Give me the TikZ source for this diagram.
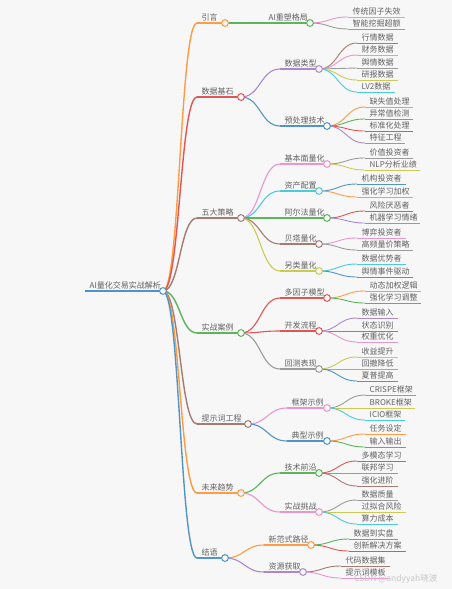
\documentclass[tikz,border=0pt]{standalone}
\usepackage{fontspec}
\newfontfamily\cjk{Noto Sans CJK SC}
\usetikzlibrary{calc}
\definecolor{bg}{HTML}{F7F7F7}
\definecolor{txtgray}{HTML}{626262}
\definecolor{mblue}{HTML}{1F77B4}
\definecolor{morange}{HTML}{FF7F0E}
\definecolor{mgreen}{HTML}{2CA02C}
\definecolor{mred}{HTML}{D62728}
\definecolor{mpurple}{HTML}{9467BD}
\definecolor{mbrown}{HTML}{8C564B}
\definecolor{mpink}{HTML}{E377C2}
\definecolor{mgray}{HTML}{7F7F7F}
\definecolor{molive}{HTML}{BCBD22}
\definecolor{mcyan}{HTML}{17BECF}
\tikzset{
  txt/.style={font=\cjk\fontsize{8}{9}\selectfont, text=txtgray, inner sep=0pt},
  wm/.style={font=\cjk\fontsize{8.5}{9}\selectfont, text=black!22, inner sep=0pt},
}
\newcommand{\mmnode}[7]{%
  \coordinate (#1-s) at (#2,#4);
  \coordinate (#1-e) at (#3,#4);
  \draw[#5!78!white, line width=#6] (#1-s) -- (#1-e);
  \node[txt, anchor=base west] (#1) at (#2+4.5,#4-2.5) {#7};
}
\newcommand{\mmlink}[4]{%
  \draw[#3!78!white, line width=#4] let \p1=(#1-e), \p2=(#2-s), \n1={0.5*(\x2-\x1)} in
    (\p1) .. controls +(\n1,0) and +(-\n1,0) .. (\p2);
}
\newcommand{\mmdot}[2]{\draw[#2!78!white, fill=bg, line width=1pt] (#1-e) circle[radius=3.4];}
\begin{document}
\begin{tikzpicture}[x=1pt,y=-1pt]
\fill[bg] (0,0) rectangle (452,589);
\useasboundingbox (0,0) rectangle (452,589);
% root
\mmnode{root}{85}{163}{291}{mblue}{1.8pt}{AI量化交易实战解析}
% level 1
\mmnode{intro}{197}{225}{23}{morange}{1.4pt}{引言}
\mmnode{data}{197}{241}{97}{mred}{1.4pt}{数据基石}
\mmnode{strat}{197}{241}{218}{mbrown}{1.4pt}{五大策略}
\mmnode{case}{197}{241}{333}{mgreen}{1.4pt}{实战案例}
\mmnode{prompt}{197}{248}{424}{mbrown}{1.4pt}{提示词工程}
\mmnode{future}{197}{241}{493}{morange}{1.4pt}{未来趋势}
\mmnode{concl}{197}{225}{558}{mblue}{1.4pt}{结语}
% level 2
\mmnode{ai}{264}{310}{23}{mgreen}{1.1pt}{AI重塑格局}
\mmnode{dtype}{280}{319}{69}{mpurple}{1.1pt}{数据类型}
\mmnode{prep}{280}{327}{126}{mblue}{1.1pt}{预处理技术}
\mmnode{fund}{280}{327}{164}{mpink}{1.1pt}{基本面量化}
\mmnode{alloc}{280}{319}{191}{mcyan}{1.1pt}{资产配置}
\mmnode{alpha}{280}{327}{218}{mgreen}{1.1pt}{阿尔法量化}
\mmnode{beta}{280}{319}{244}{mbrown}{1.1pt}{贝塔量化}
\mmnode{alt}{280}{319}{271}{molive}{1.1pt}{另类量化}
\mmnode{multi}{280}{327}{298}{mred}{1.1pt}{多因子模型}
\mmnode{dev}{280}{319}{331}{mred}{1.1pt}{开发流程}
\mmnode{back}{280}{319}{369}{mgray}{1.1pt}{回测表现}
\mmnode{frame}{287}{327}{408}{mpink}{1.1pt}{框架示例}
\mmnode{typical}{287}{327}{441}{mblue}{1.1pt}{典型示例}
\mmnode{tech}{280}{319}{473}{mgreen}{1.1pt}{技术前沿}
\mmnode{chall}{280}{319}{512}{mpink}{1.1pt}{实战挑战}
\mmnode{newp}{264}{311}{545}{morange}{1.1pt}{新范式路径}
\mmnode{res}{264}{303}{572}{mpurple}{1.1pt}{资源获取}
% level 3
\mmnode{a1}{348}{405}{17}{mpink}{0.9pt}{传统因子失效}
\mmnode{a2}{348}{405}{29}{mgray}{0.9pt}{智能挖掘超额}
\mmnode{b1}{357}{398}{43}{mbrown}{0.9pt}{行情数据}
\mmnode{b2}{357}{398}{55}{mpink}{0.9pt}{财务数据}
\mmnode{b3}{357}{398}{68}{mgray}{0.9pt}{舆情数据}
\mmnode{b4}{357}{398}{80}{molive}{0.9pt}{研报数据}
\mmnode{b5}{357}{395}{92}{mcyan}{0.9pt}{LV2数据}
\mmnode{c1}{365}{413}{107}{morange}{0.9pt}{缺失值处理}
\mmnode{c2}{365}{413}{119}{mgreen}{0.9pt}{异常值检测}
\mmnode{c3}{365}{413}{131}{mred}{0.9pt}{标准化处理}
\mmnode{c4}{365}{405}{143}{mpurple}{0.9pt}{特征工程}
\mmnode{d1}{365}{413}{158}{mgray}{0.9pt}{价值投资者}
\mmnode{d2}{365}{420}{170}{molive}{0.9pt}{NLP分析业绩}
\mmnode{e1}{357}{406}{184}{mblue}{0.9pt}{机构投资者}
\mmnode{e2}{357}{413}{197}{morange}{0.9pt}{强化学习加权}
\mmnode{f1}{365}{413}{211}{mred}{0.9pt}{风险厌恶者}
\mmnode{f2}{365}{420}{223}{mpurple}{0.9pt}{机器学习情绪}
\mmnode{g1}{357}{406}{238}{mpink}{0.9pt}{博弈投资者}
\mmnode{g2}{357}{413}{250}{mgray}{0.9pt}{高频量价策略}
\mmnode{h1}{357}{406}{264}{mcyan}{0.9pt}{数据优势者}
\mmnode{h2}{357}{413}{277}{mblue}{0.9pt}{舆情事件驱动}
\mmnode{i1}{365}{421}{291}{morange}{0.9pt}{动态加权逻辑}
\mmnode{i2}{365}{421}{303}{mgreen}{0.9pt}{强化学习调整}
\mmnode{j1}{357}{398}{318}{mpurple}{0.9pt}{数据输入}
\mmnode{j2}{357}{398}{331}{mbrown}{0.9pt}{状态识别}
\mmnode{j3}{357}{398}{342}{mpink}{0.9pt}{权重优化}
\mmnode{k1}{357}{398}{357}{molive}{0.9pt}{收益提升}
\mmnode{k2}{357}{398}{369}{mcyan}{0.9pt}{回撤降低}
\mmnode{k3}{357}{398}{381}{mblue}{0.9pt}{夏普提高}
\mmnode{l1}{365}{416}{395}{mgray}{0.9pt}{CRISPE框架}
\mmnode{l2}{365}{415}{408}{molive}{0.9pt}{BROKE框架}
\mmnode{l3}{365}{405}{420}{mcyan}{0.9pt}{ICIO框架}
\mmnode{m1}{365}{406}{434}{morange}{0.9pt}{任务设定}
\mmnode{m2}{365}{406}{447}{mgreen}{0.9pt}{输入输出}
\mmnode{n1}{357}{406}{461}{mred}{0.9pt}{多模态学习}
\mmnode{n2}{357}{398}{473}{mpurple}{0.9pt}{联邦学习}
\mmnode{n3}{357}{398}{486}{mbrown}{0.9pt}{强化进阶}
\mmnode{o1}{357}{398}{500}{mgray}{0.9pt}{数据质量}
\mmnode{o2}{357}{406}{512}{molive}{0.9pt}{过拟合风险}
\mmnode{o3}{357}{398}{524}{mcyan}{0.9pt}{算力成本}
\mmnode{p1}{349}{398}{539}{mgreen}{0.9pt}{数据到实盘}
\mmnode{p2}{349}{406}{551}{mred}{0.9pt}{创新解决方案}
\mmnode{q1}{341}{390}{566}{mbrown}{0.9pt}{代码数据集}
\mmnode{q2}{341}{390}{578}{mpink}{0.9pt}{提示词模板}
% links
\mmlink{root}{intro}{morange}{1.4pt}
\mmlink{root}{data}{mred}{1.4pt}
\mmlink{root}{strat}{mbrown}{1.4pt}
\mmlink{root}{case}{mgreen}{1.4pt}
\mmlink{root}{prompt}{mbrown}{1.4pt}
\mmlink{root}{future}{morange}{1.4pt}
\mmlink{root}{concl}{mblue}{1.4pt}
\mmlink{intro}{ai}{mgreen}{1.1pt}
\mmlink{data}{dtype}{mpurple}{1.1pt}
\mmlink{data}{prep}{mblue}{1.1pt}
\mmlink{strat}{fund}{mpink}{1.1pt}
\mmlink{strat}{alloc}{mcyan}{1.1pt}
\mmlink{strat}{alpha}{mgreen}{1.1pt}
\mmlink{strat}{beta}{mbrown}{1.1pt}
\mmlink{strat}{alt}{molive}{1.1pt}
\mmlink{case}{multi}{mred}{1.1pt}
\mmlink{case}{dev}{mred}{1.1pt}
\mmlink{case}{back}{mgray}{1.1pt}
\mmlink{prompt}{frame}{mpink}{1.1pt}
\mmlink{prompt}{typical}{mblue}{1.1pt}
\mmlink{future}{tech}{mgreen}{1.1pt}
\mmlink{future}{chall}{mpink}{1.1pt}
\mmlink{concl}{newp}{morange}{1.1pt}
\mmlink{concl}{res}{mpurple}{1.1pt}
\mmlink{ai}{a1}{mpink}{0.9pt}
\mmlink{ai}{a2}{mgray}{0.9pt}
\mmlink{dtype}{b1}{mbrown}{0.9pt}
\mmlink{dtype}{b2}{mpink}{0.9pt}
\mmlink{dtype}{b3}{mgray}{0.9pt}
\mmlink{dtype}{b4}{molive}{0.9pt}
\mmlink{dtype}{b5}{mcyan}{0.9pt}
\mmlink{prep}{c1}{morange}{0.9pt}
\mmlink{prep}{c2}{mgreen}{0.9pt}
\mmlink{prep}{c3}{mred}{0.9pt}
\mmlink{prep}{c4}{mpurple}{0.9pt}
\mmlink{fund}{d1}{mgray}{0.9pt}
\mmlink{fund}{d2}{molive}{0.9pt}
\mmlink{alloc}{e1}{mblue}{0.9pt}
\mmlink{alloc}{e2}{morange}{0.9pt}
\mmlink{alpha}{f1}{mred}{0.9pt}
\mmlink{alpha}{f2}{mpurple}{0.9pt}
\mmlink{beta}{g1}{mpink}{0.9pt}
\mmlink{beta}{g2}{mgray}{0.9pt}
\mmlink{alt}{h1}{mcyan}{0.9pt}
\mmlink{alt}{h2}{mblue}{0.9pt}
\mmlink{multi}{i1}{morange}{0.9pt}
\mmlink{multi}{i2}{mgreen}{0.9pt}
\mmlink{dev}{j1}{mpurple}{0.9pt}
\mmlink{dev}{j2}{mbrown}{0.9pt}
\mmlink{dev}{j3}{mpink}{0.9pt}
\mmlink{back}{k1}{molive}{0.9pt}
\mmlink{back}{k2}{mcyan}{0.9pt}
\mmlink{back}{k3}{mblue}{0.9pt}
\mmlink{frame}{l1}{mgray}{0.9pt}
\mmlink{frame}{l2}{molive}{0.9pt}
\mmlink{frame}{l3}{mcyan}{0.9pt}
\mmlink{typical}{m1}{morange}{0.9pt}
\mmlink{typical}{m2}{mgreen}{0.9pt}
\mmlink{tech}{n1}{mred}{0.9pt}
\mmlink{tech}{n2}{mpurple}{0.9pt}
\mmlink{tech}{n3}{mbrown}{0.9pt}
\mmlink{chall}{o1}{mgray}{0.9pt}
\mmlink{chall}{o2}{molive}{0.9pt}
\mmlink{chall}{o3}{mcyan}{0.9pt}
\mmlink{newp}{p1}{mgreen}{0.9pt}
\mmlink{newp}{p2}{mred}{0.9pt}
\mmlink{res}{q1}{mbrown}{0.9pt}
\mmlink{res}{q2}{mpink}{0.9pt}
% dots
\mmdot{root}{mblue}
\mmdot{intro}{morange}
\mmdot{data}{mred}
\mmdot{strat}{mbrown}
\mmdot{case}{mgreen}
\mmdot{prompt}{mbrown}
\mmdot{future}{morange}
\mmdot{concl}{mblue}
\mmdot{ai}{mgreen}
\mmdot{dtype}{mpurple}
\mmdot{prep}{mblue}
\mmdot{fund}{mpink}
\mmdot{alloc}{mcyan}
\mmdot{alpha}{mgreen}
\mmdot{beta}{mbrown}
\mmdot{alt}{molive}
\mmdot{multi}{mred}
\mmdot{dev}{mred}
\mmdot{back}{mgray}
\mmdot{frame}{mpink}
\mmdot{typical}{mblue}
\mmdot{tech}{mgreen}
\mmdot{chall}{mpink}
\mmdot{newp}{morange}
\mmdot{res}{mpurple}
% watermark
\node[wm, anchor=base west] (wmark) at (354,581) {CSDN @andyyah晓波};
\end{tikzpicture}
\end{document}
